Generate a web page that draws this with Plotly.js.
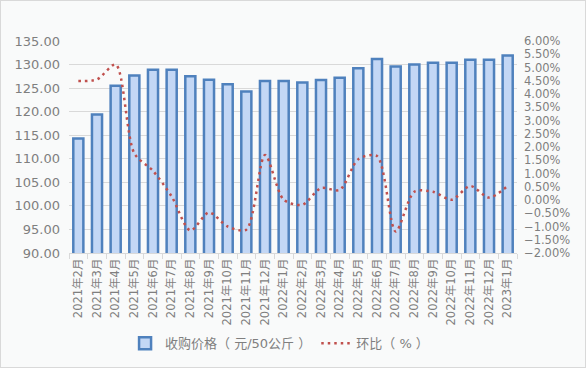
<!DOCTYPE html>
<html>
<head>
<meta charset="utf-8">
<script src="https://cdn.plot.ly/plotly-3.0.1.min.js"></script>
<style>
html,body{margin:0;padding:0;background:#fff;}
#frame{width:584px;height:366px;border:1px solid #d9d9d9;background:#f9fafa;}
</style>
</head>
<body>
<div id="frame"><div id="chart"></div></div>
<script>
const months = ["2021年2月","2021年3月","2021年4月","2021年5月","2021年6月","2021年7月","2021年8月","2021年9月","2021年10月","2021年11月","2021年12月","2022年1月","2022年2月","2022年3月","2022年4月","2022年5月","2022年6月","2022年7月","2022年8月","2022年9月","2022年10月","2022年11月","2022年12月","2023年1月"];
const price = [114.3,119.4,125.5,127.7,128.9,128.9,127.5,126.8,125.8,124.3,126.5,126.5,126.2,126.7,127.2,129.2,131.2,129.6,130.0,130.4,130.4,131.0,131.0,131.9];
const mom = [4.49,4.55,5.11,1.76,1.10,0.13,-1.15,-0.47,-1.00,-1.12,1.70,0.01,-0.18,0.45,0.38,1.54,1.66,-1.19,0.31,0.31,0.01,0.53,0.09,0.53];
const priceName = "收购价格（ 元/50公斤 ）";
const momName = "环比（ % ）";

const fontFam = "DejaVu Sans, 'Noto Sans CJK SC', sans-serif";
const grey = "#7f7f7f";

const traces = [
  {
    type: "bar", x: months, y: price, name: priceName,
    marker: {color: "#c3d7f5", line: {color: "#4f81bd", width: 2.5}},
    yaxis: "y"
  },
  {
    type: "scatter", mode: "lines", x: months, y: mom, name: momName,
    line: {color: "#c0504d", width: 2.5, dash: "2.5px,4px", shape: "spline", smoothing: 0.8},
    yaxis: "y2"
  }
];

const layout = {
  width: 584, height: 366,
  paper_bgcolor: "#f9fafa", plot_bgcolor: "#f9fafa",
  margin: {l: 68, r: 68, t: 40, b: 114},
  font: {family: fontFam, color: grey},
  bargap: 0.46,
  showlegend: true,
  legend: {orientation: "h", x: 0.47, xanchor: "center", yref: "container", y: 0.065, yanchor: "middle",
           font: {size: 13, color: grey, family: fontFam}, bgcolor: "rgba(0,0,0,0)"},
  xaxis: {
    type: "category", tickangle: -90, tickfont: {size: 11.5, color: grey, family: fontFam},
    ticks: "outside", tickson: "boundaries", ticklen: 5, tickcolor: "#d9d9d9",
    showline: true, linecolor: "#d9d9d9", linewidth: 1, showgrid: false
  },
  yaxis: {
    range: [90, 135], dtick: 5, tickformat: ".2f",
    tickfont: {size: 13, color: grey, family: fontFam}, ticklabelstandoff: 8,
    gridcolor: "#d9d9d9", gridwidth: 1, zeroline: false, showline: false, ticks: ""
  },
  yaxis2: {
    overlaying: "y", side: "right", range: [-2, 6], dtick: 0.5,
    tickformat: ".2f", ticksuffix: "%", ticklabelstandoff: 6,
    tickfont: {size: 11.5, color: grey, family: fontFam},
    showgrid: false, zeroline: false, showline: false, ticks: ""
  }
};

Plotly.newPlot("chart", traces, layout, {displayModeBar: false, staticPlot: true});
</script>
</body>
</html>
